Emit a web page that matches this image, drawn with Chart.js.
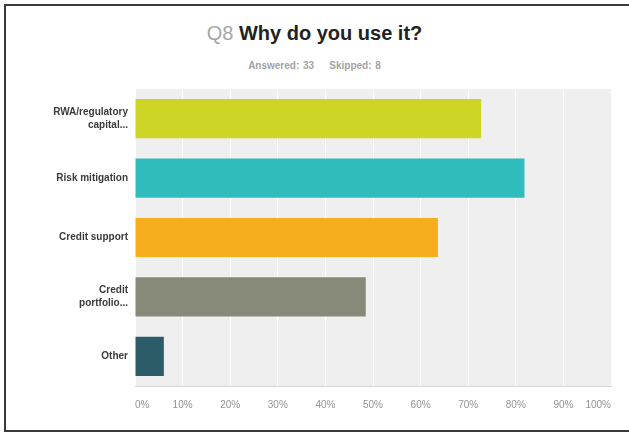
<!DOCTYPE html>
<html>
<head>
<meta charset="utf-8">
<script src="https://cdn.jsdelivr.net/npm/chart.js@4/dist/chart.umd.min.js"></script>
<style>
  html, body { margin: 0; background: #fff; overflow: hidden; font-family: "Liberation Sans", Arial, sans-serif; }
  #frame {
    position: absolute; left: 4px; top: 4px; width: 630px; height: 424px;
    border: 2px solid #3a3a3a; border-right: none;
  }
  #title {
    position: absolute; left: 0; top: 22px; width: 629px; text-align: center;
    font-size: 20px; font-weight: bold; color: #222;
  }
  #title span { color: #a6a6a6; font-weight: normal; }
  #sub {
    position: absolute; left: 0; top: 60px; width: 629px; text-align: center;
    font-size: 10px; font-weight: bold; color: #a3a3a3; word-spacing: 1px;
  }
  #wrap { position: absolute; left: 0; top: 0; width: 629px; height: 432px; }
</style>
</head>
<body>
<div id="frame"></div>
<div id="title"><span>Q8</span> Why do you use it?</div>
<div id="sub">Answered: 33&nbsp;&nbsp;&nbsp;&nbsp;Skipped: 8</div>
<div id="wrap"><canvas id="chart"></canvas></div>
<script>
// answer options and share of respondents (%)
const categories = [["RWA/regulatory", "capital..."], "Risk mitigation", "Credit support", ["Credit", "portfolio..."], "Other"];
const percentages = [72.73, 81.82, 63.64, 48.48, 6.06];
const barColors = ["#ccd425", "#30bcbc", "#f6ae1f", "#878a79", "#2c5c68"];
const tickValues = [0, 10, 20, 30, 40, 50, 60, 70, 80, 90, 100];

// gray background behind the bars
const plotBg = {
    id: "plotBg",
    beforeDraw(chart) {
        const a = chart.chartArea;
        const ctx = chart.ctx;
        ctx.save();
        ctx.fillStyle = "#efefef";
        ctx.fillRect(a.left, a.top, a.right - a.left, a.bottom - a.top);
        ctx.restore();
    }
};

const ctx = document.getElementById("chart").getContext("2d");
new Chart(ctx, {
    type: "bar",
    data: {
        labels: categories,
        datasets: [{
            data: percentages,
            backgroundColor: barColors,
            borderWidth: 0,
            barPercentage: 0.66,
            categoryPercentage: 1
        }]
    },
    options: {
        indexAxis: "y",
        responsive: true,
        maintainAspectRatio: false,
        animation: false,
        layout: { padding: { left: 0, right: 18, top: 89, bottom: 0 } },
        plugins: { legend: { display: false }, tooltip: { enabled: false } },
        scales: {
            x: {
                min: 0,
                max: 100,
                afterBuildTicks: (scale) => { scale.ticks = tickValues.map(v => ({ value: v })); },
                afterFit: (scale) => { scale.height = 46; },
                grid: { color: "#ffffff", lineWidth: 1, drawTicks: false },
                border: { display: true, color: "#d6d6d6", width: 1 },
                ticks: {
                    padding: 13,
                    align: "inner",
                    maxRotation: 0,
                    color: "#939393",
                    font: { family: "Liberation Sans", size: 10 },
                    callback: (v) => v + "%"
                }
            },
            y: {
                afterFit: (scale) => { scale.width = 135; },
                grid: { display: false, drawTicks: false },
                border: { display: false },
                ticks: {
                    padding: 7,
                    color: "#3a3a3a",
                    font: { family: "Liberation Sans", size: 10, weight: "bold", lineHeight: 1.3 }
                }
            }
        }
    },
    plugins: [plotBg]
});
</script>
</body>
</html>
